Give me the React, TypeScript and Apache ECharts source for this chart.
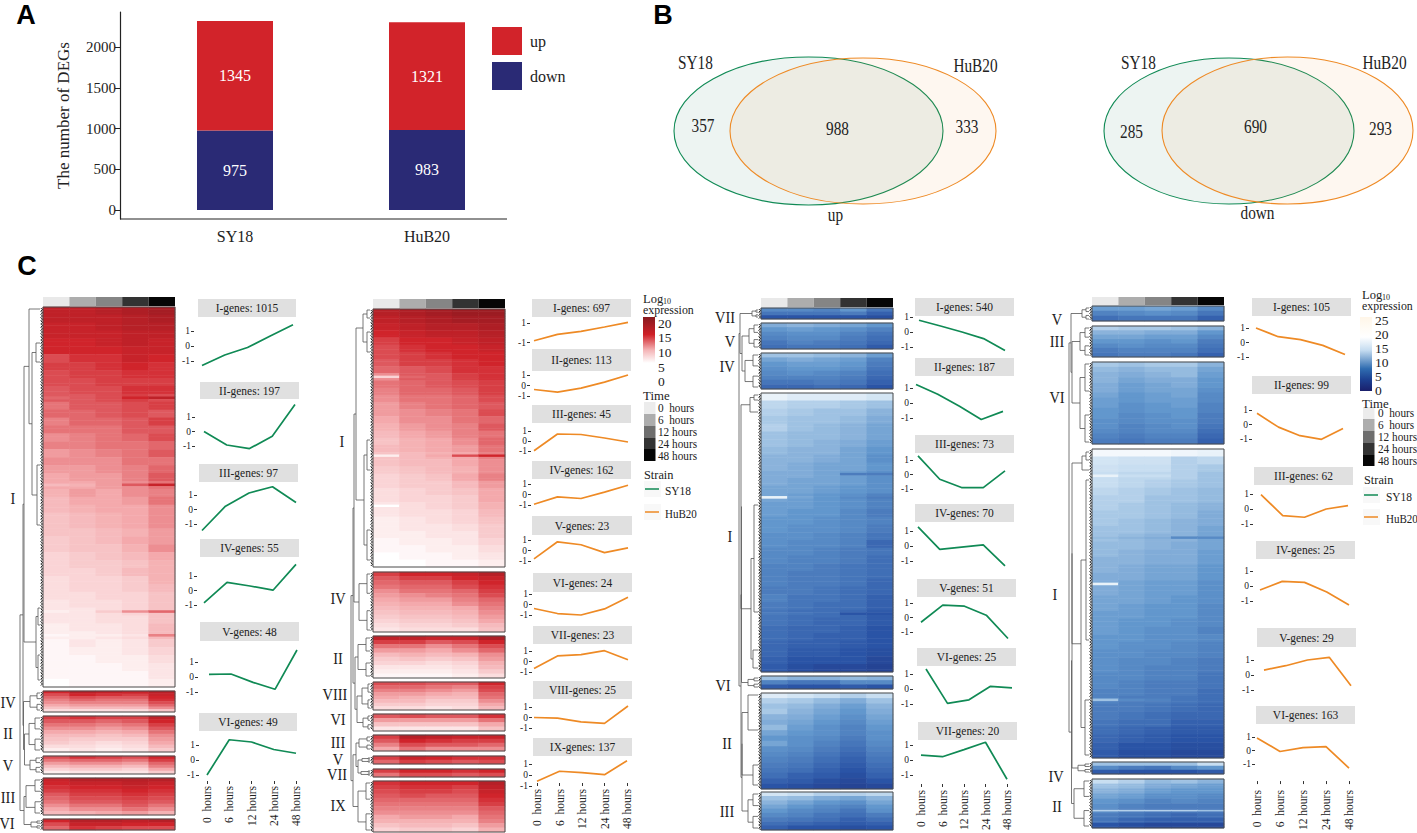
import React, { useEffect, useRef } from "react";
import * as echarts from "echarts";

const SERIF = '"Liberation Serif"';
const strains = ["SY18", "HuB20"];
const downCounts = [975, 983];
const upCounts = [1345, 1321];
const barTicks = [0, 500, 1000, 1500, 2000];
const hours = ["0  hours", "6  hours", "12 hours", "24 hours", "48 hours"];
const unitTicks = [-1, 0, 1];
const timeGreys = ["#e9e9e9", "#adadad", "#858585", "#333333", "#060606"];

// Heat-map rows (log10 expression; 5 time points)
const p1I = [
  [16,16,16.5,17,17.5],[16,16,16,16.5,17],[15.5,15.5,16,16.5,16.5],[15.5,15.5,15.5,16,16],[15,15,15.5,16,15.5],[15,15,15,15.5,15.5],
  [13.5,14.5,14.5,15.5,15],[14,14,14.5,15,14.5],[13.5,14,14,14.5,14.5],[13.5,13.5,14,14,14],[13,13.5,13.5,14.5,14.5],[13,13,13.5,14,13.5],
  [12,13,13,13.5,14],[12.5,12.5,13,13.5,13],[11.5,12.5,12.5,13,14],[12,12,12,13,13],[11,11.5,12,12.5,13.5],[11.5,11.5,12,12,12.5],
  [10.5,11,11.5,12,13],[11,11,11,12,12],[10.5,10.5,11,11.5,12.5],[10,10.5,10.5,11.5,13],[10,10,10.5,11,12],[9.5,10.5,10,11,11.5],
  [9,10,10,10.5,12],[9,9.5,10,10,11],[8.5,9,9.5,10,11],[8.5,9,9.5,10,11],[8.5,8.5,9,9.5,10.5],[8,8.5,9,10,10.5],
  [8,8.5,8.5,9.5,11],[7.5,8,8.5,9,10],[7.5,8,8,8.5,9.5],[7.5,7.5,8,9,9.5],[7,7.5,7.5,8,9.5],[7,7.5,7.5,8,9],
  [7,7,7.5,7.5,8.5],[6.5,7,7,7.5,8.5],[6.5,6.5,7,7.5,8.5],[6.5,6.5,7,7,8.5],[6,6.5,6.5,7,9],[6,6,6.5,7,9],
  [5.5,6.5,6,6.5,8],[5.5,6,6,6.5,7.5],[5.5,5.5,6,6,7],[5.5,5.5,5.5,6,6.5],[5.5,5.5,5.5,5.5,6.5],[5,5.5,5.5,5.5,6]
];
const p1IStreaks = [[11,[12.5,13,13.5,15,16]],[22,[9,9.5,10.5,13,15.5]],[38,[6,6.5,8,11,12.5]],[41,[5.5,6,6,6.5,11.5]]];
const p1IV = [[15,16.5,16,15.5,16.5],[13.5,15,14.5,14,15.5],[12.5,13.5,13,13,15],[11.5,12.5,12,12,14.5],[11,11.5,11.5,11.5,13.5],[10,10.5,10.5,10.5,12.5],[8.5,9,9,9,11],[7,7,7,7,8.5]];
const p1II = [[14,14.5,14,14,16],[13,13,12.5,13,15],[12,12,11.5,12,14],[11,11,10.5,11,13],[10,10,9.5,10,12],[9,9,8.5,9,11],[8.5,8,8,8,10.5],[8,7.5,7,7.5,10],[7,7,6.5,7,9],[6,6.5,6,6.5,8]];
const p1V = [[13.5,14.5,14,13.5,15],[12,12.5,12.5,12,14],[10.5,11,11,10.5,12.5],[9,9.5,9.5,9,11.5],[7.5,8,8,7.5,10],[6,6.5,6.5,6.5,8]];
const p1III = [[15.5,16.5,16.5,16.5,16.5],[15,15.5,15.5,16,15.5],[14.5,15,15,15.5,15],[14,14.5,14.5,15,14.5],[13,14,14,14.5,14],[12.5,13.5,13.5,14,13.5],[12,13,13,13.5,13],[11,12,12,13,12],[10,11,11,12,11],[9,9.5,10,10.5,9.5]];
const p1VI = [[15,16.5,16.5,16,16.5],[13.5,15.5,15.5,15,15],[12.5,14.5,14,13.5,13.5]];

const p2I = [
  [16.5,17,17.5,18,18],[16,16.5,17,17.5,17.5],[15.5,16,16.5,16.5,17],[15,15.5,16,16,16.5],[14,15,15,15.5,16],[13.5,14.5,15,15,15.5],
  [13.5,14,14.5,15,15],[13,14,14,14.5,15],[12.5,13,13.5,14.5,14.5],[11,13,13,14,14.5],[12,12.5,13,13.5,14],[11.5,12.5,12.5,13,14],
  [11,12,12,12.5,13.5],[10.5,11.5,12,12.5,13],[10.5,11,11.5,12,13.5],[10,11,11,12,12.5],[9.5,10.5,11,11.5,13],[9,10,10.5,11.5,12],
  [8.5,9.5,10,11,12.5],[9,9.5,10,10.5,12],[8.5,9,9.5,10,11.5],[8.5,9,9,10,11],[8,8.5,9,9.5,11],[7.5,8,8.5,10,11.5],
  [7.5,8,8,9,10.5],[7,7.5,8,8.5,10],[7,7.5,7.5,8,10],[6.5,7,7.5,8,9.5],[6.5,7,7,7.5,9],[6,6.5,7,7.5,8.5],
  [6,6.5,6.5,7,8],[6,6,6.5,6.5,8],[5.5,6,6,6.5,7.5],[5.5,5.5,6,6,7],[5,5.5,5.5,6,6.5],[5,5,5.5,5.5,6]
];
const p2IStreaks = [[9,[7.5,12.5,13,14,14.5]],[20,[6,9,10,13.5,15]],[27,[5,7,7.5,8,9.5]]];
const p2IV = [[14,15,15,15.5,16.5],[13,14,14,15,15.5],[12.5,13,13,14,15],[12,12.5,12.5,13.5,14.5],[11,12,12,12.5,14],[10.5,11,11.5,12,13.5],[10,10.5,10.5,11.5,12.5],[9.5,10,10,11,12],[9,9.5,9.5,10,11.5],[8.5,9,9,9.5,11],[8,8.5,8.5,9,10.5],[7.5,8,8,8.5,10],[7,7.5,7.5,8,9],[6.5,7,7,7,8.5]];
const p2II = [[16,16,15.5,15.5,17],[14,14,13,13.5,15],[12,12,11,12,13.5],[10.5,10.5,10,11,12.5],[9,9.5,9,9.5,11],[8,8.5,8,8.5,10.5],[7.5,7.5,7,7.5,9.5],[6.5,6.5,6.5,7,9],[6,6,6,6.5,8],[5.5,5.5,5.5,6,7]];
const p2VIII = [[13.5,13.5,13,13,15],[12.5,12.5,12,11.5,14],[11.5,11.5,11,10.5,13.5],[10.5,10.5,10,9.5,12.5],[10,9.5,9,9,12],[9,9,8,8,11],[8,8,7.5,7.5,10],[7,7,6.5,7,9]];
const p2VI = [[13,13.5,13,13,14.5],[10.5,10.5,10.5,10.5,12],[8.5,8.5,8.5,8.5,10],[6.5,6.5,6.5,6.5,8.5]];
const p2III = [[14,16.5,16,15.5,15.5],[13,15,14.5,14,14],[11.5,13.5,13,13,12.5],[10,12,11,11,11]];
const p2V = [[14,15.5,15,14.5,14.5],[12.5,14,13.5,13,13.5]];
const p2VII = [[14,15,15,14.5,15],[12,13.5,13.5,13,13.5]];
const p2IX = [[14.5,15,15,15,16.5],[14,14.5,14.5,14,16],[13.5,14,14,13.5,15.5],[13,13.5,13,13,15],[12.5,12.5,12.5,12.5,14.5],[12,12,12,12,14],[11.5,11.5,11.5,11.5,13],[11,11,11,11,12.5],[10,10.5,10.5,10,12],[9.5,9.5,9.5,9.5,11.5],[8.5,9,9,8.5,10.5],[7.5,8,8,7.5,9.5]];

const p3VII = [[9,9,8.5,10,7.5],[7.5,7.5,7.5,8,6],[5,5,5,5,4.5]];
const p3V = [[11.5,12,11.5,11,10],[10,10.5,10,9.5,8.5],[9,9.5,9.5,8.5,7.5],[8.5,9,9,8,7],[7.5,8.5,8,7.5,6.5],[7,7.5,7.5,7,5.5]];
const p3IV = [[13,13,12.5,12,10.5],[11,11.5,11,10.5,8.5],[10,10.5,10.5,10,8],[9.5,10,10,9.5,7.5],[9,9.5,9,8.5,7],[8.5,8.5,8.5,8,6.5],[7.5,7.5,8,7.5,6],[6.5,6.5,7,6.5,5]];
const p3I = [
  [18,17,17,17,16],[14.5,14,14,13.5,13],[14,13.5,13,13,12],[13.5,13,13,12.5,11.5],[14,13,12.5,12,11],[13,12.5,12.5,12,11],
  [13,12.5,12,11.5,10.5],[12.5,12,12,11,10],[12,12,11.5,11,9.5],[12,11.5,11,11,10],[11.5,11.5,11,10.5,9.5],[11.5,11,11,10.5,9.5],
  [11,11,10.5,10,9.5],[11,10.5,10,9.5,8.5],[10.5,10.5,10,9.5,8.5],[10.5,10,10,9,8],[10,10,9.5,9,8.5],[10,9.5,9.5,9,8],
  [9.5,9.5,9,8.5,7.5],[9.5,9,9,8.5,6.5],[9,9,8.5,8,7.5],[9,8.5,8.5,8,7],[8.5,8.5,8,7.5,7],[8.5,8,8,7.5,7],
  [8.5,8,8,7.5,6.5],[8,8,7.5,7,6.5],[8.5,7.5,7.5,7,6],[8,7.5,7,7,6],[7.5,7,7,6.5,5.5],[7.5,7,6.5,6.5,5.5],
  [7,6.5,6.5,6,5],[7,6.5,6,6,5],[6.5,6,6,5.5,5],[6.5,5.5,5.5,5,4.5],[6,5,5,5,4],[5.5,4.5,4,4,3.5]
];
const p3IStreaks = [[10,[11.5,11.5,11,8,8]],[13,[18,11,10,9,8]],[28,[8,7.5,7,5,5]]];
const p3VI = [[13,12,12,12.5,12],[8.5,7.5,7.5,9,9],[5.5,5,5,5.5,5]];
const p3II = [[17,16,15,14,15],[14,13.5,12.5,11.5,13],[13,12.5,11.5,10.5,12],[13.5,12,11,10,11.5],[12,11.5,10.5,9.5,11],[11.5,11,10,9,10.5],[12.5,10.5,9.5,8.5,10],[11,10,9.5,8.5,9.5],[10,9.5,9,8,9.5],[11,9.5,8.5,7.5,9],[9.5,9,8,7,8.5],[9,8.5,7.5,6.5,8],[8.5,8,7,6,7.5],[8,7.5,6.5,5.5,7],[7.5,7,6,5,6.5],[7,6,5.5,4.5,6],[6,5.5,4.5,4,5],[5,4.5,4,3.5,4]];
const p3III = [[16,15,14,14,14.5],[13,12.5,11.5,11,12],[12,11,10,9.5,11],[11,10,9,8.5,10],[10,9,8.5,7.5,9.5],[9,8.5,7.5,7,8],[8,7.5,7,6,7],[7,6.5,6,5.5,6],[6,5,5,4.5,5]];

const p4V = [[10.5,10.5,11,10.5,9],[8.5,9,9.5,9,7.5],[7,7.5,7.5,7.5,6]];
const p4III = [[14,13.5,13.5,13,12],[12,12,11.5,11.5,10],[11,11,10.5,10.5,9],[10,10,9.5,10,8],[9,9.5,9,9,7.5],[8,8.5,8.5,8.5,7],[7.5,8,8,7.5,6]];
const p4VI = [[13.5,13,13.5,13.5,12],[12.5,12,12.5,12.5,11],[12,11.5,12,12.5,10.5],[12,11,11.5,11.5,10],[11.5,10.5,11,11.5,10],[11.5,10.5,11,11,9.5],[11,10,10.5,11,9],[10.5,10,10.5,10.5,9],[10.5,9.5,10,10.5,8.5],[10,9.5,10,10,8.5],[10,9,9.5,10,8],[9.5,9,9.5,9.5,8],[9.5,8.5,9,9.5,7.5],[9,8.5,9,9,7],[8.5,8,8.5,8.5,6.5],[8,7.5,8,8,6]];
const p4I = [
  [19,19,19,18.5,18],[16,15.5,15.5,14,14.5],[15.5,15,15,14,13.5],[15,14.5,14.5,14,13],[15,14.5,14,13.5,13],[14.5,14,13.5,13,12.5],
  [14,14,13,13,12.5],[14,13.5,13,12.5,12],[13.5,13.5,13,12.5,11.5],[13.5,13,12.5,12,11.5],[13,13,12.5,12,11],[13,12.5,12,12,11],
  [12.5,12.5,12,11.5,11],[12.5,12,11.5,11.5,10.5],[12,12,11.5,11.5,10.5],[12,11.5,11,11,10],[11.5,11.5,11,11,10],[11.5,11,10.5,10.5,9.5],
  [11.5,11,10.5,10.5,9.5],[11,11,10.5,10,9.5],[11,10.5,10,10,9],[10.5,10.5,10,10,9],[10.5,10,10,9.5,9],[10.5,10,9.5,9.5,8.5],
  [10,10,9.5,9.5,9],[10,9.5,9.5,9,8.5],[9.5,9.5,9,9,8.5],[9.5,9,9,8.5,8],[9.5,9,8.5,8.5,8],[9,9,8.5,8.5,7.5],
  [9,8.5,8,8,7.5],[8.5,8.5,8,8,7],[8.5,8,8,7.5,7],[8,8,7.5,7,6.5],[8,7.5,7,6.5,6.5],[7.5,7,7,6,6],[7,6.5,6,5.5,5.5],[6.5,6,5.5,5,5],[6,5,5,4.5,4.5],[5.5,4.5,4.5,4,4]
];
const p4IStreaks = [[3,[18,15,15,14,13]],[11,[12.5,12,11.5,9,9]],[17,[18,11,10.5,10.5,9.5]],[32,[13,9,8.5,7.5,7]]];
const p4IV = [[13,13,13,13,15],[9,8,7.5,9,10],[5.5,5,5,5,5.5]];
const p4II = [[15,14,12.5,13,12],[13,12.5,11.5,11,10.5],[12,11.5,10.5,10,10],[11,10.5,9.5,9.5,9],[10,9.5,8.5,9,8.5],[9.5,8.5,8,8,8],[9,8,7.5,7.5,7.5],[8,7.5,7,6.5,7],[7.5,6.5,6,6,6],[5,4.5,4,4,4]];
const p4IIStreaks = [[6,[14,14,14,14,13]]];

// Trend lines
const t1 = [
  [-1.3,-0.6,-0.1,0.67,1.42],[0,-0.93,-1.18,-0.33,1.86],[-1.45,0.23,1.14,1.57,0.48],
  [-0.85,0.56,0.31,0.02,1.8],[0.18,0.2,-0.36,-0.82,1.8],[-1,1.35,1.2,0.7,0.45]
];
const t2 = [
  [-0.8,-0.14,0.17,0.62,1.1],[-0.38,-0.63,-0.25,0.32,1],[-0.97,0.7,0.65,0.3,-0.1],
  [-0.93,-0.23,-0.38,0.22,0.88],[-0.8,0.83,0.55,-0.2,0.25],[-0.38,-0.86,-1,-0.42,0.7],
  [-0.66,0.53,0.66,1.03,0.16],[0,-0.06,-0.41,-0.56,1.1],[-0.56,0.34,0.22,0.03,1.3]
];
const t3 = [
  [0.78,0.4,0,-0.44,-1.24],[1.24,0.58,-0.22,-1.1,-0.56],[1.28,-0.33,-0.9,-0.9,0.25],
  [1.27,-0.22,-0.07,0.07,-1.33],[-0.33,0.85,0.78,0.16,-1.45],[1.33,-0.96,-0.72,0.18,0.07],[0.33,0.22,0.69,1.18,-1.28]
];
const t4 = [
  [1,0.4,0.2,-0.2,-0.83],[0.77,-0.18,-0.77,-1.02,-0.27],[0.96,-0.44,-0.55,0,0.22],
  [-0.27,0.31,0.24,-0.4,-1.27],[0.33,0.62,1,1.18,-0.72],[0.93,-0.07,0.22,0.29,-1.3]
];

const RED = ["#ffffff", "#ffffff", "#f4a9ac", "#d0242b", "#7a161c"];
const BLUE = ["#1a1f6b", "#2a54a6", "#6297cd", "#c8def1", "#ffffff"];
const GREEN = "#108a55";
const ORANGE = "#ee8a25";

type Tree = number | { x: number; a: Tree; b: Tree };
const n = (x: number, a: Tree, b: Tree): Tree => ({ x, a, b });
const yOf = (t: Tree): number => (typeof t === "number" ? t : (yOf(t.a) + yOf(t.b)) / 2);
const blk = (x: number, yt: number, yb: number, xi: number): Tree => {
  const h = yb - yt;
  return n(x, n(xi, yt + 1, yt + h * 0.35), n(xi, yt + h * 0.65, yb - 1));
};

// [rows, top, bottom, label, labelX, labelY, thin streak rows]
type Block = [number[][], number, number, string, number, number, any?];
type Plot = [string, number, number, number, number, number, number, number, number, number];
// title, boxX0, boxX1, boxY0, boxY1, y(+1), y(-1), x0, x4, tick right end

const panels: any[] = [
  {
    x0: 43, x1: 175, annY: [297, 306], ramp: "red", color: GREEN, tickTop: 781, labelGap: 5, values: t1,
    blocks: [
      [p1I, 307, 687, "I", 13, 498, p1IStreaks], [p1IV, 691, 712, "IV", 8, 702], [p1II, 716, 752, "II", 8, 733],
      [p1V, 756, 774, "V", 8, 765], [p1III, 778, 815, "III", 8, 797], [p1VI, 819, 830, "VI", 7, 823],
    ] as Block[],
    plots: [
      ["I-genes: 1015", 198, 296, 299, 317, 331, 361, 202, 293, 194],
      ["II-genes: 197", 200, 299, 382, 399, 417, 446, 204, 295, 195],
      ["III-genes: 97", 199, 298, 464, 482, 495, 524, 202, 296, 197],
      ["IV-genes: 55", 200, 299, 539, 557, 576, 605, 204, 296, 197],
      ["V-genes: 48", 200, 299, 622, 641, 662, 692, 209, 297, 198],
      ["VI-genes: 49", 199, 297, 713, 731, 745, 775, 207, 296, 199],
    ] as Plot[],
    tree: n(20,
      n(23,
        n(24,
          n(29, 309, n(32, n(36, 343, 362), n(37, 465, 525))),
          n(36, n(38, 608, 625), n(38, 655, 680))),
        n(23.5, blk(30, 692, 711, 37), n(24.5, blk(29, 717, 751, 35), blk(30, 757, 773, 36)))),
      n(24, blk(26, 779, 814, 35), blk(31, 820, 829, 37))),
    edge: 40,
  },
  {
    x0: 373, x1: 505, annY: [299, 308], ramp: "red", color: ORANGE, tickTop: 783, labelGap: 6, values: t2,
    blocks: [
      [p2I, 309, 567, "I", 342, 441, p2IStreaks], [p2IV, 572, 632, "IV", 338, 598], [p2II, 636, 678, "II", 338, 658],
      [p2VIII, 682, 710, "VIII", 335, 694], [p2VI, 714, 731, "VI", 338, 719], [p2III, 735, 751, "III", 338, 742],
      [p2V, 756, 764, "V", 338, 759], [p2VII, 769, 777, "VII", 337, 774], [p2IX, 781, 832, "IX", 338, 805],
    ] as Block[],
    plots: [
      ["I-genes: 697", 532, 631, 299, 317, 323.3, 342.7, 534, 628, 530],
      ["II-genes: 113", 532, 631, 349, 371, 375, 396, 534, 628, 530],
      ["III-genes: 45", 532, 631, 405, 423, 431, 451, 534, 628, 531],
      ["IV-genes: 162", 532, 631, 461, 479, 484, 505, 534, 628, 531],
      ["V-genes: 23", 532, 632, 516, 535, 540, 561, 534, 628, 531],
      ["VI-genes: 24", 533, 632, 573, 592, 594, 615, 534, 628, 532],
      ["VII-genes: 23", 533, 632, 626, 644, 651, 672, 534, 628, 532],
      ["VIII-genes: 25", 533, 632, 681, 699, 707, 728, 534, 628, 532],
      ["IX-genes: 137", 533, 632, 738, 756, 764, 786, 537, 627, 532],
    ] as Plot[],
    tree: n(351,
      n(353,
        n(354,
          n(356,
            n(363, n(367, 310, 318), n(367, 332, 352)),
            n(364, n(367, 440, 470), n(367, 530, 560))),
          blk(359, 573, 631, 367)),
        n(355, blk(358, 637, 677, 366), n(357, blk(362, 683, 709, 368), blk(363, 715, 730, 368)))),
      n(353,
        n(356, blk(359, 736, 750, 367), n(358, blk(362, 757, 763, 368), blk(361, 770, 776, 368))),
        blk(358, 782, 831, 366))),
    edge: 370,
  },
  {
    x0: 761, x1: 893, annY: [298, 307], ramp: "blue", color: GREEN, tickTop: 784, labelGap: 6, values: t3,
    blocks: [
      [p3VII, 308, 319, "VII", 725, 317], [p3V, 323, 349, "V", 730, 341], [p3IV, 353, 389, "IV", 727, 366],
      [p3I, 393, 672, "I", 730, 536, p3IStreaks], [p3VI, 676, 689, "VI", 723, 685], [p3II, 693, 789, "II", 727, 743],
      [p3III, 792, 830, "III", 727, 811],
    ] as Block[],
    plots: [
      ["I-genes: 540", 915, 1014, 298, 316, 317, 347, 919, 1005, 913],
      ["II-genes: 187", 915, 1014, 358, 376, 388, 418, 916, 1003, 913],
      ["III-genes: 73", 915, 1014, 435, 453, 460, 489, 918, 1005, 913],
      ["IV-genes: 70", 915, 1014, 504, 522, 531, 561, 918, 1005, 913],
      ["V-genes: 51", 917, 1016, 579, 597, 603, 632, 921, 1008, 913],
      ["VI-genes: 25", 917, 1016, 648, 666, 674, 704, 926, 1012, 913],
      ["VII-genes: 20", 918, 1017, 722, 740, 745, 775, 921, 1007, 913],
    ] as Plot[],
    tree: n(739,
      n(740, blk(752, 309, 318, 756), n(742, blk(749, 324, 348, 754), blk(745, 354, 388, 753))),
      n(741,
        n(741.5,
          n(741,
            n(750, n(754, 395, 400), 412),
            n(751, n(754, 505, 612), n(753, 650, 668))),
          blk(748, 677, 688, 754)),
        n(742, n(742, n(748, 695, 730), n(753, 765, 785)), blk(748, 793, 829, 753)))),
    edge: 758,
  },
  {
    x0: 1092, x1: 1224, annY: [297, 305], ramp: "blue", color: ORANGE, tickTop: 785, labelGap: 9, values: t4,
    blocks: [
      [p4V, 306, 321, "V", 1057, 319], [p4III, 326, 357, "III", 1057, 341], [p4VI, 362, 444, "VI", 1057, 397],
      [p4I, 449, 758, "I", 1055, 594, p4IStreaks], [p4IV, 762, 774, "IV", 1056, 776], [p4II, 779, 828, "II", 1057, 806, p4IIStreaks],
    ] as Block[],
    plots: [
      ["I-genes: 105", 1252, 1351, 298, 316, 328, 357, 1256, 1345, 1249],
      ["II-genes: 99", 1252, 1351, 376, 394, 410, 439, 1257, 1343, 1252],
      ["III-genes: 62", 1254, 1353, 467, 485, 494, 524, 1261, 1348, 1253],
      ["IV-genes: 25", 1256, 1355, 541, 559, 571, 601, 1260, 1349, 1253],
      ["V-genes: 29", 1257, 1356, 628, 647, 660, 690, 1264, 1351, 1254],
      ["VI-genes: 163", 1256, 1355, 706, 724, 738, 767, 1257, 1349, 1255],
    ] as Plot[],
    tree: n(1069,
      n(1071, blk(1082, 307, 320, 1086), n(1072, blk(1080, 327, 356, 1085), blk(1080, 363, 443, 1085))),
      n(1071.5,
        n(1072,
          n(1072,
            n(1082, n(1086, 452, 460), 470),
            n(1081, n(1086, 480, 640), n(1085, 700, 755))),
          blk(1078, 763, 773, 1085)),
        blk(1074, 780, 827, 1084))),
    edge: 1089,
  },
];

const txt = (text: string, x: number, y: number, size = 13, align = "left", sx = 0.85, fill = "#222", family = SERIF, weight = "normal"): any => ({
  type: "text", x, y, z: 20, scaleX: sx,
  style: { text, font: `${weight} ${size}px ${family}`, fill, textAlign: align, textVerticalAlign: "middle" },
});
const seg = (x1: number, y1: number, x2: number, y2: number, stroke = "#555", w = 0.8): any => ({
  type: "line", z: 15, shape: { x1, y1, x2, y2 }, style: { stroke, lineWidth: w },
});
const box = (x: number, y: number, w: number, h: number, fill: string): any => ({
  type: "rect", z: 12, shape: { x, y, width: w, height: h }, style: { fill },
});

function treeSegs(t: Tree, edge: number, out: any[]) {
  if (typeof t === "number") return;
  const ya = yOf(t.a), yb = yOf(t.b);
  out.push(seg(t.x, ya, t.x, yb));
  for (const c of [t.a, t.b]) {
    out.push(seg(t.x, yOf(c), typeof c === "number" ? edge : c.x, yOf(c)));
    treeSegs(c, edge, out);
  }
}

function slots(rows: number[][], streaks?: any[]): number[][] {
  if (!streaks) return rows;
  const out: number[][] = [];
  rows.forEach((r, i) => {
    const s = streaks.find((e: any) => e[0] === i);
    out.push(r, s ? s[1] : r, r);
  });
  return out;
}

function buildOption(): any {
  const grid: any[] = [], xAxis: any[] = [], yAxis: any[] = [], series: any[] = [], elements: any[] = [];
  const redIdx: number[] = [], blueIdx: number[] = [];

  // A: stacked bars
  grid.push({ left: 139, width: 384, top: 12, height: 207 });
  xAxis.push({
    type: "category", gridIndex: 0, data: strains,
    axisLine: { show: false, onZero: false }, axisTick: { alignWithLabel: true, length: 6, lineStyle: { color: "#222" } },
    axisLabel: { fontSize: 16, color: "#222", fontFamily: SERIF, margin: 9 },
  });
  yAxis.push({
    type: "value", gridIndex: 0, min: -110, max: 2430, offset: 19, splitLine: { show: false },
    axisLine: { show: true, lineStyle: { color: "#222", width: 1.2 } },
    axisTick: { show: true, length: 5, customValues: barTicks, lineStyle: { color: "#222" } },
    axisLabel: { fontSize: 15, color: "#222", fontFamily: SERIF, customValues: barTicks, margin: 4, formatter: (v: number) => String(v) },
    name: "The number of DEGs", nameLocation: "middle", nameGap: 48,
    nameTextStyle: { fontSize: 17, color: "#222", fontFamily: SERIF },
  });
  const barLabel = { show: true, position: "inside", color: "#fff", fontSize: 16, fontFamily: SERIF };
  series.push({ type: "bar", name: "down", stack: "n", data: downCounts, barWidth: 76, xAxisIndex: 0, yAxisIndex: 0, itemStyle: { color: "#2a2a75" }, label: barLabel });
  series.push({ type: "bar", name: "up", stack: "n", data: upCounts, barWidth: 76, xAxisIndex: 0, yAxisIndex: 0, itemStyle: { color: "#d2232a" }, label: barLabel });
  elements.push(seg(120, 219, 507, 219, "#222", 1.2));

  for (const p of panels) {
    // time annotation bar
    const cw = (p.x1 - p.x0) / 5;
    timeGreys.forEach((c, i) => elements.push(box(p.x0 + i * cw, p.annY[0], cw, p.annY[1] - p.annY[0], c)));

    for (const [base, top, bottom, label, lx, ly, streaks] of p.blocks as Block[]) {
      const rows = slots(base, streaks);
      const g = grid.length;
      grid.push({ left: p.x0, width: p.x1 - p.x0, top, height: bottom - top });
      xAxis.push({ type: "category", gridIndex: g, show: false, data: hours });
      yAxis.push({ type: "category", gridIndex: g, show: false, inverse: true, data: rows.map((_: any, i: number) => String(i)) });
      const data: number[][] = [];
      rows.forEach((r: number[], i: number) => r.forEach((v: number, j: number) => data.push([j, i, v])));
      (p.ramp === "red" ? redIdx : blueIdx).push(series.length);
      series.push({ type: "heatmap", xAxisIndex: g, yAxisIndex: g, data, itemStyle: { borderWidth: 0 }, silent: true });
      elements.push({
        type: "rect", z: 14, shape: { x: p.x0, y: top, width: p.x1 - p.x0, height: bottom - top },
        style: { fill: "none", stroke: "#4a4a4a", lineWidth: 1 },
      });
      elements.push(txt(label, lx, ly, 16, "center", 0.9));
      // dense leaf squiggle next to the block
      const pts: number[][] = [];
      for (let y = top + 1, k = 0; y < bottom; y += 1.6, k++) pts.push([p.edge + (k % 2 ? 2.4 : 0.8), y]);
      elements.push({ type: "polyline", z: 15, shape: { points: pts }, style: { stroke: "#111", fill: "none", lineWidth: 0.9 } });
    }
    const segs: any[] = [];
    treeSegs(p.tree, p.edge, segs);
    elements.push(...segs);

    (p.plots as Plot[]).forEach((pl, i) => {
      const [title, bx0, bx1, by0, by1, y1, ym1, x0, x4, ax] = pl;
      elements.push(box(bx0, by0, bx1 - bx0, by1 - by0, "#e0e0e0"));
      elements.push(txt(title, (bx0 + bx1) / 2, (by0 + by1) / 2, 13.5, "center", 0.85));
      const unit = (ym1 - y1) / 2;
      const g = grid.length;
      const top = y1 - unit, height = 4 * unit;
      grid.push({ left: x0, width: x4 - x0, top, height });
      const last = i === p.plots.length - 1;
      xAxis.push({
        type: "category", gridIndex: g, data: hours, boundaryGap: false, show: last,
        offset: p.tickTop - (top + height),
        axisLine: { show: false, onZero: false }, axisTick: { show: true, length: 3, lineStyle: { color: "#333" } },
        axisLabel: { rotate: 90, fontSize: 11.5, color: "#222", fontFamily: SERIF, margin: p.labelGap, interval: 0, hideOverlap: false },
      });
      yAxis.push({
        type: "value", gridIndex: g, min: -2, max: 2, offset: x0 - ax, splitLine: { show: false },
        axisLine: { show: false },
        axisTick: { show: true, length: 3, customValues: unitTicks, lineStyle: { color: "#333" } },
        axisLabel: { fontSize: 9.5, color: "#222", fontFamily: SERIF, margin: 4, customValues: unitTicks, hideOverlap: false, showMinLabel: true, showMaxLabel: true },
      });
      series.push({
        type: "line", xAxisIndex: g, yAxisIndex: g, data: p.values[i], showSymbol: false, symbol: "none", silent: true,
        lineStyle: { color: p.color, width: 1.7 }, clip: false,
      });
    });
  }

  // Venn diagrams
  const venn = (cx: number, cy: number, rx: number, ry: number, fill: string, stroke: string) => ({
    type: "ellipse", z: 10, shape: { cx, cy, rx, ry }, style: { fill, stroke, lineWidth: 1.1 },
  });
  const gFill = "rgba(20,120,90,0.08)", oFill = "rgba(240,140,40,0.07)";
  elements.push(venn(808.5, 131, 134.5, 74, gFill, GREEN), venn(863, 131, 133, 73, oFill, ORANGE));
  elements.push(venn(1229, 131, 125, 73, gFill, GREEN), venn(1287.5, 130.5, 125.5, 73.5, oFill, ORANGE));
  const V = 18;
  elements.push(
    txt("SY18", 695.5, 63, V, "center"), txt("HuB20", 975.5, 66, V, "center"),
    txt("357", 703, 126, V, "center"), txt("988", 837.5, 129, V, "center"), txt("333", 967, 127, V, "center"), txt("up", 835.5, 215, V, "center"),
    txt("SY18", 1138.5, 63, V, "center"), txt("HuB20", 1384.5, 63, V, "center"),
    txt("285", 1131.5, 132, V, "center"), txt("690", 1255.5, 127, V, "center"), txt("293", 1380.5, 129, V, "center"), txt("down", 1257.5, 213, V, "center"),
  );

  // Panel letters
  const SANS = '"Liberation Sans"';
  elements.push(txt("A", 26, 15, 27, "center", 1, "#000", SANS, "bold"), txt("B", 663, 15, 27, "center", 1, "#000", SANS, "bold"), txt("C", 27, 266, 27, "center", 1, "#000", SANS, "bold"));

  // Legends beside the second and fourth heat maps
  const legend = (L: any) => {
    elements.push(txt("Log", L.x, L.logY - 0.5, 12.5, "left", 1), txt("10", L.x + 20, L.logY + 2, 8, "left", 1), txt("expression", L.x, L.logY + 10.5, 12.5, "left", 0.95));
    elements.push({
      type: "rect", z: 12, shape: { x: L.barX, y: L.barY, width: 12, height: L.barH },
      style: { fill: new echarts.graphic.LinearGradient(0, 0, 0, 1, L.stops) },
    });
    L.ticks.forEach(([t, y]: any) => elements.push(txt(t, L.tickX, y, 13.5, "left", 1)));
    elements.push(txt("Time", L.x + L.dx, L.timeY, 13.5, "left", 0.95));
    L.timeRows.forEach(([y0, y1, ty, label]: any, i: number) => {
      elements.push(box(L.swX, y0, 11.5, y1 - y0, ["#ececec", "#adadad", "#6e6e6e", "#333333", "#060606"][i]));
      elements.push(txt(label, L.swTx, ty, 12.5, "left", 0.9));
    });
    elements.push(txt("Strain", L.strainX, L.strainY, 13, "left", 0.95));
    elements.push(box(L.lineX - 1, L.sy - 8, 17, 16, "#f8f8f8"), box(L.lineX - 1, L.hy - 8, 17, 16, "#f8f8f8"));
    elements.push(seg(L.lineX, L.sy, L.lineX + 14, L.sy, GREEN, 1.5), seg(L.lineX, L.hy, L.lineX + 14, L.hy, ORANGE, 1.5));
    elements.push(txt("SY18", L.lineTx, L.sy + 2, 13, "left", 0.88), txt("HuB20", L.lineTx, L.hy + 2, 13, "left", 0.85));
  };
  legend({
    x: 643, dx: 0, logY: 299, barX: 643, barY: 317, barH: 46,
    stops: [{ offset: 0, color: "#861a1f" }, { offset: 0.38, color: "#cf2027" }, { offset: 0.72, color: "#f4b4b6" }, { offset: 1, color: "#ffffff" }],
    ticks: [["20", 323], ["15", 337], ["10", 352], ["5", 367], ["0", 381]], tickX: 658, timeY: 395,
    swX: 644, swTx: 658,
    timeRows: [[402, 414, 408, "0  hours"], [414, 426, 420, "6  hours"], [426, 438, 432, "12 hours"], [438, 449, 444, "24 hours"], [449, 461, 456, "48 hours"]],
    strainX: 644, strainY: 475, lineX: 645, sy: 489, hy: 512, lineTx: 665,
  });
  legend({
    x: 1362, dx: 0, logY: 295, barX: 1360, barY: 317, barH: 74,
    stops: [{ offset: 0, color: "#fff6e8" }, { offset: 0.27, color: "#ffffff" }, { offset: 0.45, color: "#c5dcf0" }, { offset: 0.7, color: "#2f6cb0" }, { offset: 0.85, color: "#1c3f90" }, { offset: 1, color: "#1a1f6b" }],
    ticks: [["25", 320], ["20", 334], ["15", 348], ["10", 362], ["5", 376], ["0", 390]], tickX: 1375, timeY: 403,
    swX: 1363, swTx: 1378,
    timeRows: [[407, 419, 413, "0  hours"], [419, 431, 425, "6  hours"], [431, 443, 437, "12 hours"], [443, 455, 449, "24 hours"], [455, 466, 461, "48 hours"]],
    strainX: 1364, strainY: 480, lineX: 1364, sy: 495, hy: 517, lineTx: 1386,
  });

  return {
    animation: false,
    backgroundColor: "#ffffff",
    textStyle: { fontFamily: SERIF },
    legend: {
      data: ["up", "down"], orient: "vertical", left: 487, top: 22, icon: "rect",
      itemWidth: 30, itemHeight: 28, itemGap: 7,
      textStyle: { fontSize: 16, color: "#222", fontFamily: SERIF, padding: [0, 0, 0, 3] }, selectedMode: false,
    },
    visualMap: [
      { type: "continuous", show: false, seriesIndex: redIdx, min: 0, max: 20, dimension: 2, inRange: { color: RED } },
      { type: "continuous", show: false, seriesIndex: blueIdx, min: 0, max: 20, dimension: 2, inRange: { color: BLUE } },
    ],
    grid, xAxis, yAxis, series,
    graphic: { elements },
  };
}

export default function App() {
  const ref = useRef<HTMLDivElement>(null);
  useEffect(() => {
    const chart = echarts.init(ref.current!, undefined, { renderer: "svg" });
    chart.setOption(buildOption());
    return () => chart.dispose();
  }, []);
  return <div ref={ref} style={{ position: "absolute", left: 0, top: 0, width: 1417, height: 833 }} />;
}
